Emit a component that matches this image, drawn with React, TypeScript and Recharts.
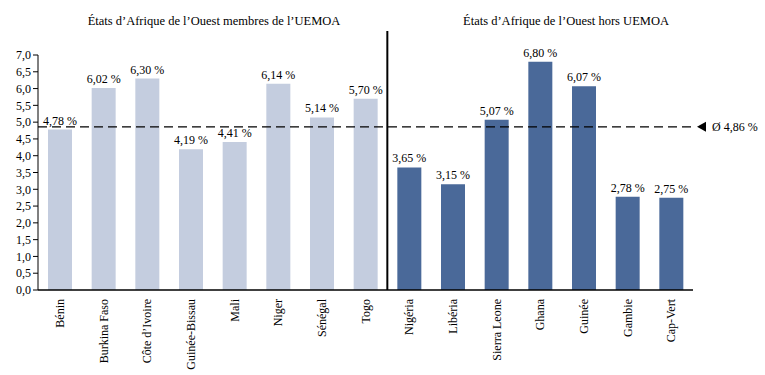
import React from 'react';
import { BarChart, Bar, XAxis, YAxis, Cell, LabelList, ReferenceLine } from 'recharts';

const uemoaCountries = ['Bénin', 'Burkina Faso', 'Côte d’Ivoire', 'Guinée-Bissau', 'Mali', 'Niger', 'Sénégal', 'Togo'];
const uemoaValues = [4.78, 6.02, 6.3, 4.19, 4.41, 6.14, 5.14, 5.7];
const horsCountries = ['Nigéria', 'Libéria', 'Sierra Leone', 'Ghana', 'Guinée', 'Gambie', 'Cap-Vert'];
const horsValues = [3.65, 3.15, 5.07, 6.8, 6.07, 2.78, 2.75];
const average = 4.86;
const yTicks = [0, 0.5, 1, 1.5, 2, 2.5, 3, 3.5, 4, 4.5, 5, 5.5, 6, 6.5, 7];

const titleLeft = 'États d’Afrique de l’Ouest membres de l’UEMOA';
const titleRight = 'États d’Afrique de l’Ouest hors UEMOA';

const LIGHT = '#c4cddf';
const DARK = '#4a6999';
const FONT = '"Liberation Serif", serif';
const FS = 12;

const data = [
  ...uemoaCountries.map((name, i) => ({ name, value: uemoaValues[i], group: 'uemoa' })),
  ...horsCountries.map((name, i) => ({ name, value: horsValues[i], group: 'hors' })),
];

const fmtTick = (v: number) => v.toFixed(1).replace('.', ',');
const fmtLabel = (v: number) => v.toFixed(2).replace('.', ',') + ' %';

const CountryTick = ({ x, y, payload }: any) => (
  <g transform={`translate(${x},${y + 1})`}>
    <text transform="rotate(-90)" textAnchor="end" dy="0.35em" fontSize={FS} fill="#000">
      {payload.value}
    </text>
  </g>
);

const ValueLabel = ({ x, y, width, value }: any) => (
  <text x={x + width / 2} y={y - 5} textAnchor="middle" fontSize={FS} fill="#000">
    {fmtLabel(value)}
  </text>
);

const AverageLabel = ({ viewBox }: any) => {
  const x = viewBox.x + viewBox.width + 4;
  const y = viewBox.y;
  return (
    <g>
      <polygon points={`${x},${y} ${x + 9},${y - 5} ${x + 9},${y + 5}`} fill="#000" />
      <text x={x + 15} y={y} dy="0.35em" fontSize={FS} fill="#000">
        {'Ø ' + fmtLabel(average)}
      </text>
    </g>
  );
};

const SeparatorExt = ({ viewBox }: any) => (
  <line x1={viewBox.x} x2={viewBox.x} y1={viewBox.y - 24} y2={viewBox.y} stroke="#000" strokeWidth={2} />
);

const App: React.FC = () => {
  return (
    <div style={{ position: 'absolute', left: 0, top: 0, width: 765, height: 375, fontFamily: FONT, background: '#fff' }}>
      <div style={{ position: 'absolute', left: 214, top: 14, transform: 'translateX(-50%)', whiteSpace: 'nowrap', fontSize: 12.5 }}>
        {titleLeft}
      </div>
      <div style={{ position: 'absolute', left: 566, top: 14, transform: 'translateX(-50%)', whiteSpace: 'nowrap', fontSize: 12.5 }}>
        {titleRight}
      </div>
      <BarChart width={765} height={375} data={data} margin={{ top: 55, right: 72, bottom: 0, left: 0 }}>
        <XAxis
          dataKey="name"
          interval={0}
          tickLine={false}
          axisLine={{ stroke: '#000', strokeWidth: 1.5 }}
          tick={<CountryTick />}
          height={85}
        />
        <YAxis
          domain={[0, 7]}
          ticks={yTicks}
          tickFormatter={fmtTick}
          width={38}
          tickSize={5}
          tickLine={{ stroke: '#000' }}
          axisLine={{ stroke: '#000' }}
          tick={{ fill: '#000', fontSize: FS }}
          interval={0}
        />
        <Bar dataKey="value" barSize={24} isAnimationActive={false}>
          {data.map((d, i) => (
            <Cell key={`cell-${i}`} fill={d.group === 'uemoa' ? LIGHT : DARK} />
          ))}
          <LabelList dataKey="value" content={<ValueLabel />} />
        </Bar>
        <ReferenceLine
          y={average}
          stroke="#000"
          strokeWidth={1.3}
          strokeDasharray="9 5"
          label={<AverageLabel />}
        />
        <ReferenceLine x="Togo" position="end" stroke="#000" strokeWidth={2} label={<SeparatorExt />} />
      </BarChart>
    </div>
  );
};

export default App;
